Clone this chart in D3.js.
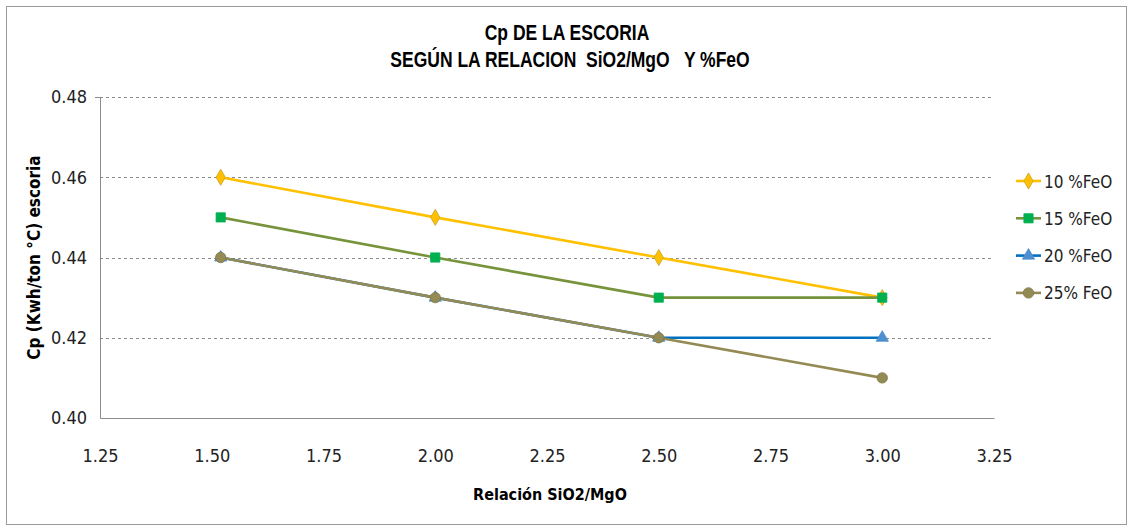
<!DOCTYPE html>
<html lang="es">
<head>
<meta charset="utf-8">
<script src="https://d3js.org/d3.v7.min.js"></script>
<title>Cp de la escoria</title>
<style>
  body { margin: 0; background: #fff; }
  text { font-family: "DejaVu Sans Condensed", "Liberation Sans", sans-serif; }
  .title { font-family: "Liberation Sans", Arial, sans-serif; font-weight: bold; font-size: 17.5px; }
</style>
</head>
<body>
<div id="chart"></div>
<script>
// data
var ratios = [1.52, 2.00, 2.50, 3.00];
var seriesNames = ["10 %FeO", "15 %FeO", "20 %FeO", "25% FeO"];
var feo10 = [0.46, 0.45, 0.44, 0.43];
var feo15 = [0.45, 0.44, 0.43, 0.43];
var feo20 = [0.44, 0.43, 0.42, 0.42];
var feo25 = [0.44, 0.43, 0.42, 0.41];
var xTicks = [1.25, 1.50, 1.75, 2.00, 2.25, 2.50, 2.75, 3.00, 3.25];
var yTicks = [0.40, 0.42, 0.44, 0.46, 0.48];

var W = 1131, H = 527;
var margin = {top: 97, right: 137, bottom: 109, left: 100},
    width = W - margin.left - margin.right,
    height = H - margin.top - margin.bottom;

var svg = d3.select("#chart").append("svg")
    .attr("width", W)
    .attr("height", H);

// outer frame
svg.append("rect")
    .attr("x", 6.5).attr("y", 6.5)
    .attr("width", 1120).attr("height", 518)
    .attr("fill", "none")
    .attr("stroke", "#9a9a9a");

// title (stretched vertically like the original)
svg.append("text")
    .attr("class", "title")
    .attr("transform", "translate(567,40) scale(1,1.22)")
    .attr("text-anchor", "middle")
    .text("Cp DE LA ESCORIA");
svg.append("text")
    .attr("class", "title")
    .attr("transform", "translate(570,67) scale(1,1.22)")
    .attr("text-anchor", "middle")
    .attr("xml:space", "preserve")
    .text("SEGÚN LA RELACION  SiO2/MgO   Y %FeO");

var g = svg.append("g")
    .attr("transform", "translate(" + margin.left + "," + margin.top + ")");

var x = d3.scaleLinear().domain([1.25, 3.25]).range([0, width]);
var y = d3.scaleLinear().domain([0.40, 0.48]).range([height, 0]);

// grid
g.selectAll(".grid")
    .data(yTicks.slice(1))
    .enter().append("line")
    .attr("x1", 0).attr("x2", width)
    .attr("y1", function(d) { return Math.round(y(d)) + 0.5; })
    .attr("y2", function(d) { return Math.round(y(d)) + 0.5; })
    .attr("stroke", "#8c8c8c")
    .attr("stroke-dasharray", "3,3");

// axes
var xAxis = g.append("g")
    .attr("transform", "translate(0," + height + ")")
    .call(d3.axisBottom(x).tickValues(xTicks).tickFormat(d3.format(".2f")).tickSize(0).tickPadding(31));
var yAxis = g.append("g")
    .call(d3.axisLeft(y).tickValues(yTicks).tickFormat(d3.format(".2f")).tickSize(0).tickPadding(13));
[xAxis, yAxis].forEach(function(a) {
    a.select(".domain").attr("stroke", "#8c8c8c");
    a.selectAll("text").style("font-size", "18px").attr("fill", "#222");
});
g.append("line")
    .attr("x1", -5).attr("x2", 0)
    .attr("y1", 0.5).attr("y2", 0.5)
    .attr("stroke", "#8c8c8c");

// axis titles
svg.append("text")
    .attr("x", 550).attr("y", 500)
    .attr("text-anchor", "middle")
    .style("font-size", "16px").style("font-weight", "bold")
    .text("Relación SiO2/MgO");
svg.append("text")
    .attr("transform", "translate(40," + (margin.top + height / 2) + ") rotate(-90)")
    .attr("text-anchor", "middle")
    .style("font-size", "17px").style("font-weight", "bold")
    .text("Cp (Kwh/ton °C) escoria");

var series = [
    {name: seriesNames[0], values: feo10, line: "#ffc000", fill: "#ffc000", stroke: "#c9a227", shape: d3.symbolDiamond, size: 75},
    {name: seriesNames[1], values: feo15, line: "#77933c", fill: "#00b050", stroke: "#00b050", shape: d3.symbolSquare, size: 85},
    {name: seriesNames[2], values: feo20, line: "#0070c0", fill: "#4f8fd0", stroke: "#4f8fd0", shape: d3.symbolTriangle, size: 65},
    {name: seriesNames[3], values: feo25, line: "#948a54", fill: "#948a54", stroke: "#7f764a", shape: d3.symbolCircle, size: 85}
];

var line = d3.line()
    .x(function(d, i) { return x(ratios[i]); })
    .y(function(d) { return y(d); });

series.forEach(function(s) {
    g.append("path")
        .datum(s.values)
        .attr("d", line)
        .attr("fill", "none")
        .attr("stroke", s.line)
        .attr("stroke-width", 2.6);
});
series.forEach(function(s) {
    g.selectAll(null)
        .data(s.values)
        .enter().append("path")
        .attr("transform", function(d, i) { return "translate(" + x(ratios[i]) + "," + y(d) + ")"; })
        .attr("d", d3.symbol().type(s.shape).size(s.size))
        .attr("fill", s.fill)
        .attr("stroke", s.stroke)
        .attr("stroke-width", 0.8);
});

// legend
var legend = svg.append("g").attr("transform", "translate(1016,181)");
series.forEach(function(s, i) {
    var row = legend.append("g").attr("transform", "translate(0," + (i * 37.3) + ")");
    row.append("line")
        .attr("x1", 0).attr("x2", 25)
        .attr("stroke", s.line).attr("stroke-width", 2.6);
    row.append("path")
        .attr("transform", "translate(12.5,0)")
        .attr("d", d3.symbol().type(s.shape).size(s.size))
        .attr("fill", s.fill)
        .attr("stroke", s.stroke)
        .attr("stroke-width", 0.8);
    row.append("text")
        .attr("x", 28).attr("y", 6.5)
        .style("font-size", "17px")
        .attr("fill", "#222")
        .text(s.name);
});
</script>
</body>
</html>
